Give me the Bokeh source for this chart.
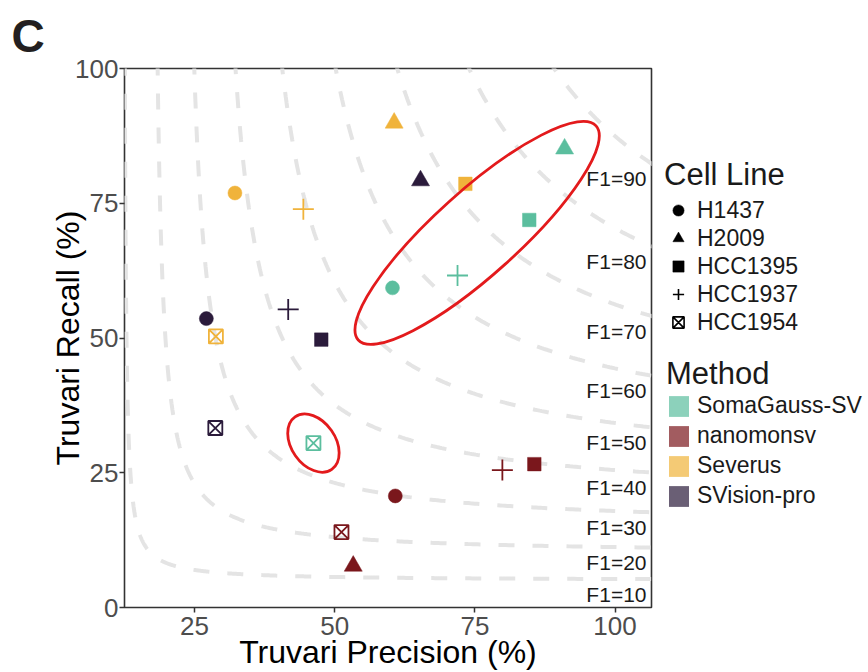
import numpy as np
from bokeh.plotting import figure
from bokeh.layouts import row
from bokeh.models import Range1d, FixedTicker, Legend, LegendItem, ColumnDataSource
from bokeh.core.properties import value
from bokeh.embed import file_html
from bokeh.resources import INLINE

# ---------------- data ----------------
cell_lines = ["H1437", "H2009", "HCC1395", "HCC1937", "HCC1954"]
methods = ["SomaGauss-SV", "nanomonsv", "Severus", "SVision-pro"]

# Truvari precision / recall (%), in the order of cell_lines
somagauss_precision = [60.3, 91.0, 84.7, 71.9, 46.2]
somagauss_recall = [59.3, 85.1, 71.9, 61.6, 30.5]
nanomonsv_precision = [60.8, 53.3, 85.6, 79.9, 51.2]
nanomonsv_recall = [20.7, 7.7, 26.6, 25.5, 14.0]
severus_precision = [32.2, 60.6, 73.3, 44.4, 28.8]
severus_recall = [76.9, 89.9, 78.6, 73.9, 50.3]
svisionpro_precision = [27.1, 65.3, 47.6, 41.7, 28.7]
svisionpro_recall = [53.6, 79.2, 49.7, 55.3, 33.3]

f1_levels = [10, 20, 30, 40, 50, 60, 70, 80, 90]
f1_curve_shift = 7.3          # the iso-F1 guide curves sit shifted right in the source
x_ticks = [25, 50, 75, 100]
y_ticks = [0, 25, 50, 75, 100]

# highlight ellipses (centre in data units, size in px, angle in degrees)
ellipse_x = [75.4, 46.2]
ellipse_y = [69.5, 30.5]
ellipse_w = [320, 64]
ellipse_h = [84, 44]
ellipse_angle = [42, -55]

# ---------------- styles ----------------
FONT = "Liberation Sans"
point_colors = ["#5BBE9E", "#7A171C", "#F0B33B", "#2B1B3B"]
cell_markers = ["circle", "triangle", "square", "cross", "square_x"]
marker_size = {"circle": 14, "triangle": 18, "square": 13.5, "cross": 21, "square_x": 14}
marker_hollow = {"circle": False, "triangle": False, "square": False, "cross": True, "square_x": True}

H = 672
MAIN_W = 655
LEG_W = 868 - MAIN_W
FRAME_BOTTOM = 609

# ---------------- main scatter ----------------
X0, X1 = 12.5, 106.5
p = figure(width=MAIN_W, height=H, x_range=Range1d(X0, X1), y_range=Range1d(0, 100),
           output_backend="svg", toolbar_location=None,
           min_border_left=124, min_border_right=4, min_border_top=68, min_border_bottom=H - FRAME_BOTTOM)
p.background_fill_color = "white"
p.border_fill_color = "white"
p.outline_line_color = "#333333"
p.outline_line_width = 1.6
p.xgrid.grid_line_color = None
p.ygrid.grid_line_color = None

# panel letter as the figure title, pushed to the left edge
p.title.text = "C"
p.title.align = "left"
p.title.offset = -113
p.title.standoff = 14
p.title.text_font = FONT
p.title.text_font_size = "46px"
p.title.text_font_style = "bold"
p.title.text_color = "#231F20"

for ax, ticks in ((p.xaxis[0], x_ticks), (p.yaxis[0], y_ticks)):
    ax.ticker = FixedTicker(ticks=ticks)
    ax.axis_line_color = None
    ax.major_tick_line_color = "#333333"
    ax.major_tick_line_width = 1.5
    ax.major_tick_out = 5
    ax.major_tick_in = 0
    ax.minor_tick_line_color = None
    ax.major_label_text_font = FONT
    ax.major_label_text_font_size = "26px"
    ax.major_label_text_color = "#4D4D4D"
    ax.axis_label_text_font = FONT
    ax.axis_label_text_font_size = "32px"
    ax.axis_label_text_font_style = "normal"
    ax.axis_label_text_color = "#000000"

p.xaxis.axis_label = "Truvari Precision (%)"
p.yaxis.axis_label = "Truvari Recall (%)"
p.xaxis.major_label_standoff = 4
p.xaxis.axis_label_standoff = -4
p.yaxis.major_label_standoff = 1
p.yaxis.axis_label_standoff = -14

# iso-F1 guide curves
label_y = []
for f in f1_levels:
    t = np.geomspace(1e-3, 80, 1500)
    prec = f / 2 * (1 + t)
    rec = f / 2 * (1 + 1 / t)
    keep = rec <= 102
    xs = prec[keep] + f1_curve_shift
    ys = rec[keep]
    keep2 = xs <= X1 + 1
    p.line(xs[keep2], ys[keep2], line_color="#E4E4E4", line_width=4, line_dash="16 18")
    pr = X1 - f1_curve_shift
    label_y.append(f * pr / (2 * pr - f))

p.text(x=[X1] * len(f1_levels), y=label_y, text=[f"F1={f}" for f in f1_levels],
       text_align="right", text_baseline="middle", x_offset=-5, y_offset=15,
       text_font=value(FONT), text_font_size="21px", text_color="#1A1A1A")

# points
series = [(somagauss_precision, somagauss_recall), (nanomonsv_precision, nanomonsv_recall),
          (severus_precision, severus_recall), (svisionpro_precision, svisionpro_recall)]
for (px, py), col in zip(series, point_colors):
    src = ColumnDataSource(dict(
        x=px, y=py, marker=cell_markers,
        size=[marker_size[m] for m in cell_markers],
        falpha=[0.0 if marker_hollow[m] else 1.0 for m in cell_markers],
        lw=[1.8 if marker_hollow[m] else 0.5 for m in cell_markers],
    ))
    p.scatter("x", "y", source=src, marker="marker", size="size", fill_color=col,
              fill_alpha="falpha", line_color=col, line_width="lw")

# highlight ellipses
p.ellipse(x=ellipse_x, y=ellipse_y, width=ellipse_w, height=ellipse_h,
          angle=[np.deg2rad(a) for a in ellipse_angle],
          width_units="screen", height_units="screen",
          fill_color=None, line_color="#E31A1C", line_width=2.8)

# ---------------- legend panel (its frame is aligned with the main frame) ----------------
lg = figure(width=LEG_W, height=H, x_range=Range1d(0, 1), y_range=Range1d(0, 1),
            output_backend="svg", toolbar_location=None,
            x_axis_location=None, y_axis_location=None,
            min_border_left=0, min_border_right=0, min_border_top=68, min_border_bottom=H - FRAME_BOTTOM)
lg.outline_line_color = None
lg.background_fill_color = "white"
lg.border_fill_color = "white"
lg.xgrid.grid_line_color = None
lg.ygrid.grid_line_color = None

OFF = [-10.0]   # legend-only renderers sit outside the visible range
cl_items = []
for name, mk in zip(cell_lines, cell_markers):
    hollow = marker_hollow[mk]
    r = lg.scatter(x=OFF, y=OFF, marker=mk, fill_color="black", fill_alpha=0.0 if hollow else 1.0,
                   line_color="black", line_width=1.6 if hollow else 0.5)
    cl_items.append(LegendItem(label=name, renderers=[r]))

m_items = []
for name, col in zip(methods, point_colors):
    r = lg.quad(left=[-10], right=[-9], top=[-9], bottom=[-10], fill_color=col, fill_alpha=0.7,
                line_color=None)
    m_items.append(LegendItem(label=name, renderers=[r]))

common = dict(border_line_color=None, background_fill_alpha=0, padding=0, margin=0,
              label_text_font=FONT, label_text_font_size="23px", label_text_color="#1A1A1A",
              title_text_font=FONT, title_text_font_size="31px", title_text_font_style="normal",
              title_text_color="#1A1A1A")
leg1 = Legend(items=cl_items, title="Cell Line", location=(664 - MAIN_W, FRAME_BOTTOM - 338),
              glyph_width=28, glyph_height=28, spacing=0, label_standoff=5, title_standoff=3, **common)
leg2 = Legend(items=m_items, title="Method", location=(666 - MAIN_W, FRAME_BOTTOM - 511),
              glyph_width=25, glyph_height=26, spacing=3, label_standoff=6, title_standoff=0, **common)
lg.add_layout(leg1)
lg.add_layout(leg2)

layout = row(p, lg, spacing=0)
open("out.html", "w").write(file_html(layout, INLINE))
